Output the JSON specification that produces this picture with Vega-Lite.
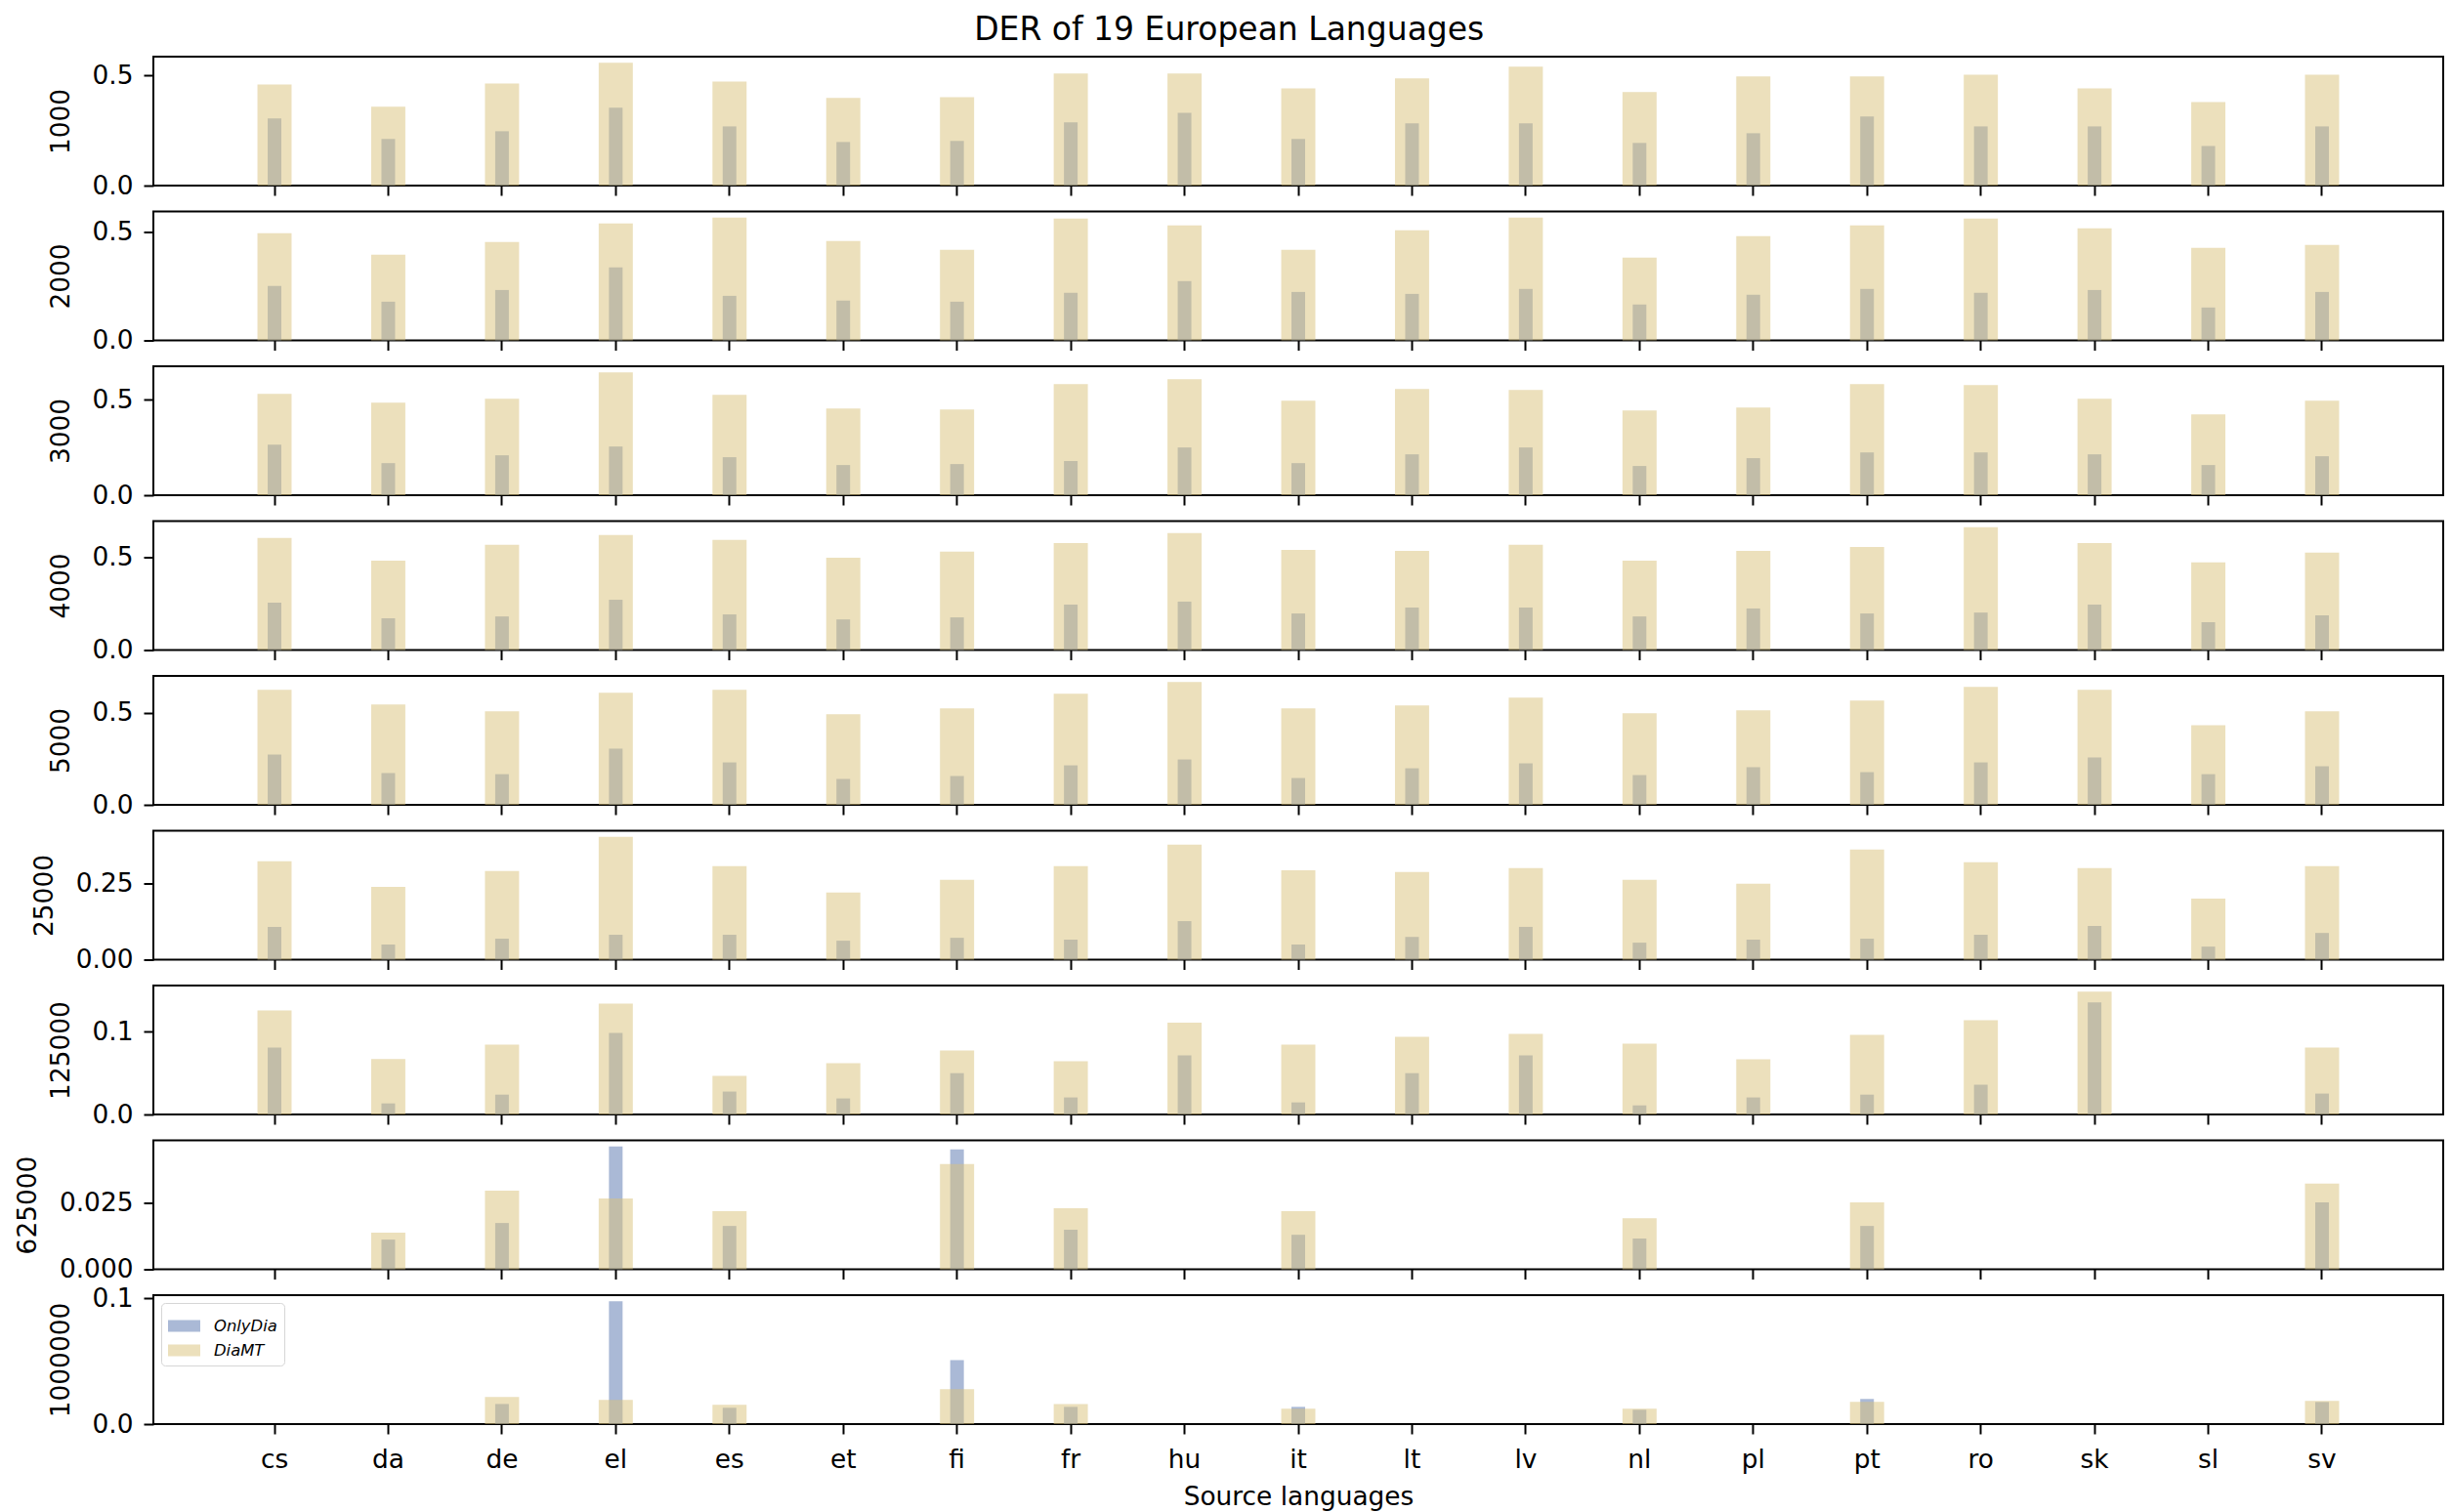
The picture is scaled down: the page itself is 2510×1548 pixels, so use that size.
{
  "$schema": "https://vega.github.io/schema/vega-lite/v6.json",
  "padding": {"left": 14, "right": 10, "top": 15, "bottom": 6},
  "background": "white",
  "title": {"text": "DER of 19 European Languages", "fontSize": 33, "font": "DejaVu Sans", "fontWeight": "normal", "anchor": "middle", "offset": 9, "color": "black"},
  "config": {
    "font": "DejaVu Sans",
    "view": {"stroke": "black", "strokeWidth": 2},
    "axis": {
      "labelFont": "DejaVu Sans", "labelFontSize": 26.4, "labelColor": "black",
      "titleFont": "DejaVu Sans", "titleFontSize": 26.4, "titleFontWeight": "normal", "titleColor": "black",
      "tickColor": "black", "tickWidth": 2, "tickSize": 10, "domain": false, "grid": false
    },
    "bar": {"opacity": 0.5}
  },
  "data": {
    "values": [
      {"n": 1000, "lang": "cs", "OnlyDia": 0.305, "DiaMT": 0.460},
      {"n": 1000, "lang": "da", "OnlyDia": 0.212, "DiaMT": 0.358},
      {"n": 1000, "lang": "de", "OnlyDia": 0.247, "DiaMT": 0.464},
      {"n": 1000, "lang": "el", "OnlyDia": 0.354, "DiaMT": 0.558},
      {"n": 1000, "lang": "es", "OnlyDia": 0.269, "DiaMT": 0.473},
      {"n": 1000, "lang": "et", "OnlyDia": 0.198, "DiaMT": 0.398},
      {"n": 1000, "lang": "fi", "OnlyDia": 0.203, "DiaMT": 0.402},
      {"n": 1000, "lang": "fr", "OnlyDia": 0.287, "DiaMT": 0.509},
      {"n": 1000, "lang": "hu", "OnlyDia": 0.331, "DiaMT": 0.509},
      {"n": 1000, "lang": "it", "OnlyDia": 0.212, "DiaMT": 0.442},
      {"n": 1000, "lang": "lt", "OnlyDia": 0.283, "DiaMT": 0.487},
      {"n": 1000, "lang": "lv", "OnlyDia": 0.283, "DiaMT": 0.540},
      {"n": 1000, "lang": "nl", "OnlyDia": 0.194, "DiaMT": 0.425},
      {"n": 1000, "lang": "pl", "OnlyDia": 0.238, "DiaMT": 0.496},
      {"n": 1000, "lang": "pt", "OnlyDia": 0.314, "DiaMT": 0.496},
      {"n": 1000, "lang": "ro", "OnlyDia": 0.269, "DiaMT": 0.504},
      {"n": 1000, "lang": "sk", "OnlyDia": 0.269, "DiaMT": 0.442},
      {"n": 1000, "lang": "sl", "OnlyDia": 0.180, "DiaMT": 0.380},
      {"n": 1000, "lang": "sv", "OnlyDia": 0.269, "DiaMT": 0.504},

      {"n": 2000, "lang": "cs", "OnlyDia": 0.252, "DiaMT": 0.495},
      {"n": 2000, "lang": "da", "OnlyDia": 0.179, "DiaMT": 0.396},
      {"n": 2000, "lang": "de", "OnlyDia": 0.233, "DiaMT": 0.455},
      {"n": 2000, "lang": "el", "OnlyDia": 0.337, "DiaMT": 0.541},
      {"n": 2000, "lang": "es", "OnlyDia": 0.206, "DiaMT": 0.568},
      {"n": 2000, "lang": "et", "OnlyDia": 0.184, "DiaMT": 0.459},
      {"n": 2000, "lang": "fi", "OnlyDia": 0.179, "DiaMT": 0.419},
      {"n": 2000, "lang": "fr", "OnlyDia": 0.220, "DiaMT": 0.563},
      {"n": 2000, "lang": "hu", "OnlyDia": 0.274, "DiaMT": 0.532},
      {"n": 2000, "lang": "it", "OnlyDia": 0.224, "DiaMT": 0.419},
      {"n": 2000, "lang": "lt", "OnlyDia": 0.215, "DiaMT": 0.509},
      {"n": 2000, "lang": "lv", "OnlyDia": 0.238, "DiaMT": 0.568},
      {"n": 2000, "lang": "nl", "OnlyDia": 0.166, "DiaMT": 0.383},
      {"n": 2000, "lang": "pl", "OnlyDia": 0.211, "DiaMT": 0.482},
      {"n": 2000, "lang": "pt", "OnlyDia": 0.238, "DiaMT": 0.532},
      {"n": 2000, "lang": "ro", "OnlyDia": 0.220, "DiaMT": 0.563},
      {"n": 2000, "lang": "sk", "OnlyDia": 0.233, "DiaMT": 0.518},
      {"n": 2000, "lang": "sl", "OnlyDia": 0.152, "DiaMT": 0.428},
      {"n": 2000, "lang": "sv", "OnlyDia": 0.224, "DiaMT": 0.441},

      {"n": 3000, "lang": "cs", "OnlyDia": 0.265, "DiaMT": 0.531},
      {"n": 3000, "lang": "da", "OnlyDia": 0.168, "DiaMT": 0.485},
      {"n": 3000, "lang": "de", "OnlyDia": 0.209, "DiaMT": 0.505},
      {"n": 3000, "lang": "el", "OnlyDia": 0.255, "DiaMT": 0.643},
      {"n": 3000, "lang": "es", "OnlyDia": 0.199, "DiaMT": 0.526},
      {"n": 3000, "lang": "et", "OnlyDia": 0.158, "DiaMT": 0.454},
      {"n": 3000, "lang": "fi", "OnlyDia": 0.163, "DiaMT": 0.449},
      {"n": 3000, "lang": "fr", "OnlyDia": 0.179, "DiaMT": 0.582},
      {"n": 3000, "lang": "hu", "OnlyDia": 0.250, "DiaMT": 0.607},
      {"n": 3000, "lang": "it", "OnlyDia": 0.168, "DiaMT": 0.495},
      {"n": 3000, "lang": "lt", "OnlyDia": 0.214, "DiaMT": 0.556},
      {"n": 3000, "lang": "lv", "OnlyDia": 0.250, "DiaMT": 0.551},
      {"n": 3000, "lang": "nl", "OnlyDia": 0.153, "DiaMT": 0.444},
      {"n": 3000, "lang": "pl", "OnlyDia": 0.194, "DiaMT": 0.459},
      {"n": 3000, "lang": "pt", "OnlyDia": 0.224, "DiaMT": 0.582},
      {"n": 3000, "lang": "ro", "OnlyDia": 0.224, "DiaMT": 0.577},
      {"n": 3000, "lang": "sk", "OnlyDia": 0.214, "DiaMT": 0.505},
      {"n": 3000, "lang": "sl", "OnlyDia": 0.158, "DiaMT": 0.423},
      {"n": 3000, "lang": "sv", "OnlyDia": 0.204, "DiaMT": 0.495},

      {"n": 4000, "lang": "cs", "OnlyDia": 0.255, "DiaMT": 0.604},
      {"n": 4000, "lang": "da", "OnlyDia": 0.171, "DiaMT": 0.482},
      {"n": 4000, "lang": "de", "OnlyDia": 0.181, "DiaMT": 0.567},
      {"n": 4000, "lang": "el", "OnlyDia": 0.271, "DiaMT": 0.620},
      {"n": 4000, "lang": "es", "OnlyDia": 0.192, "DiaMT": 0.593},
      {"n": 4000, "lang": "et", "OnlyDia": 0.165, "DiaMT": 0.498},
      {"n": 4000, "lang": "fi", "OnlyDia": 0.176, "DiaMT": 0.530},
      {"n": 4000, "lang": "fr", "OnlyDia": 0.245, "DiaMT": 0.577},
      {"n": 4000, "lang": "hu", "OnlyDia": 0.261, "DiaMT": 0.630},
      {"n": 4000, "lang": "it", "OnlyDia": 0.197, "DiaMT": 0.540},
      {"n": 4000, "lang": "lt", "OnlyDia": 0.229, "DiaMT": 0.535},
      {"n": 4000, "lang": "lv", "OnlyDia": 0.229, "DiaMT": 0.567},
      {"n": 4000, "lang": "nl", "OnlyDia": 0.181, "DiaMT": 0.482},
      {"n": 4000, "lang": "pl", "OnlyDia": 0.224, "DiaMT": 0.535},
      {"n": 4000, "lang": "pt", "OnlyDia": 0.197, "DiaMT": 0.556},
      {"n": 4000, "lang": "ro", "OnlyDia": 0.202, "DiaMT": 0.662},
      {"n": 4000, "lang": "sk", "OnlyDia": 0.245, "DiaMT": 0.577},
      {"n": 4000, "lang": "sl", "OnlyDia": 0.150, "DiaMT": 0.472},
      {"n": 4000, "lang": "sv", "OnlyDia": 0.187, "DiaMT": 0.525},

      {"n": 5000, "lang": "cs", "OnlyDia": 0.274, "DiaMT": 0.626},
      {"n": 5000, "lang": "da", "OnlyDia": 0.173, "DiaMT": 0.546},
      {"n": 5000, "lang": "de", "OnlyDia": 0.167, "DiaMT": 0.509},
      {"n": 5000, "lang": "el", "OnlyDia": 0.306, "DiaMT": 0.610},
      {"n": 5000, "lang": "es", "OnlyDia": 0.231, "DiaMT": 0.626},
      {"n": 5000, "lang": "et", "OnlyDia": 0.141, "DiaMT": 0.493},
      {"n": 5000, "lang": "fi", "OnlyDia": 0.157, "DiaMT": 0.525},
      {"n": 5000, "lang": "fr", "OnlyDia": 0.215, "DiaMT": 0.605},
      {"n": 5000, "lang": "hu", "OnlyDia": 0.247, "DiaMT": 0.669},
      {"n": 5000, "lang": "it", "OnlyDia": 0.146, "DiaMT": 0.525},
      {"n": 5000, "lang": "lt", "OnlyDia": 0.199, "DiaMT": 0.541},
      {"n": 5000, "lang": "lv", "OnlyDia": 0.226, "DiaMT": 0.584},
      {"n": 5000, "lang": "nl", "OnlyDia": 0.162, "DiaMT": 0.498},
      {"n": 5000, "lang": "pl", "OnlyDia": 0.205, "DiaMT": 0.514},
      {"n": 5000, "lang": "pt", "OnlyDia": 0.178, "DiaMT": 0.568},
      {"n": 5000, "lang": "ro", "OnlyDia": 0.231, "DiaMT": 0.642},
      {"n": 5000, "lang": "sk", "OnlyDia": 0.258, "DiaMT": 0.626},
      {"n": 5000, "lang": "sl", "OnlyDia": 0.167, "DiaMT": 0.434},
      {"n": 5000, "lang": "sv", "OnlyDia": 0.210, "DiaMT": 0.509},

      {"n": 25000, "lang": "cs", "OnlyDia": 0.108, "DiaMT": 0.324},
      {"n": 25000, "lang": "da", "OnlyDia": 0.050, "DiaMT": 0.240},
      {"n": 25000, "lang": "de", "OnlyDia": 0.069, "DiaMT": 0.292},
      {"n": 25000, "lang": "el", "OnlyDia": 0.082, "DiaMT": 0.405},
      {"n": 25000, "lang": "es", "OnlyDia": 0.082, "DiaMT": 0.308},
      {"n": 25000, "lang": "et", "OnlyDia": 0.0625, "DiaMT": 0.221},
      {"n": 25000, "lang": "fi", "OnlyDia": 0.072, "DiaMT": 0.263},
      {"n": 25000, "lang": "fr", "OnlyDia": 0.066, "DiaMT": 0.308},
      {"n": 25000, "lang": "hu", "OnlyDia": 0.127, "DiaMT": 0.379},
      {"n": 25000, "lang": "it", "OnlyDia": 0.050, "DiaMT": 0.295},
      {"n": 25000, "lang": "lt", "OnlyDia": 0.075, "DiaMT": 0.289},
      {"n": 25000, "lang": "lv", "OnlyDia": 0.108, "DiaMT": 0.302},
      {"n": 25000, "lang": "nl", "OnlyDia": 0.056, "DiaMT": 0.263},
      {"n": 25000, "lang": "pl", "OnlyDia": 0.066, "DiaMT": 0.250},
      {"n": 25000, "lang": "pt", "OnlyDia": 0.069, "DiaMT": 0.363},
      {"n": 25000, "lang": "ro", "OnlyDia": 0.082, "DiaMT": 0.321},
      {"n": 25000, "lang": "sk", "OnlyDia": 0.111, "DiaMT": 0.302},
      {"n": 25000, "lang": "sl", "OnlyDia": 0.043, "DiaMT": 0.2015},
      {"n": 25000, "lang": "sv", "OnlyDia": 0.088, "DiaMT": 0.308},

      {"n": 125000, "lang": "cs", "OnlyDia": 0.081, "DiaMT": 0.126},
      {"n": 125000, "lang": "da", "OnlyDia": 0.0134, "DiaMT": 0.067},
      {"n": 125000, "lang": "de", "OnlyDia": 0.024, "DiaMT": 0.0846},
      {"n": 125000, "lang": "el", "OnlyDia": 0.0988, "DiaMT": 0.134},
      {"n": 125000, "lang": "es", "OnlyDia": 0.0277, "DiaMT": 0.0466},
      {"n": 125000, "lang": "et", "OnlyDia": 0.0194, "DiaMT": 0.062},
      {"n": 125000, "lang": "fi", "OnlyDia": 0.050, "DiaMT": 0.0775},
      {"n": 125000, "lang": "fr", "OnlyDia": 0.0206, "DiaMT": 0.0644},
      {"n": 125000, "lang": "hu", "OnlyDia": 0.0715, "DiaMT": 0.111},
      {"n": 125000, "lang": "it", "OnlyDia": 0.0146, "DiaMT": 0.0846},
      {"n": 125000, "lang": "lt", "OnlyDia": 0.050, "DiaMT": 0.094},
      {"n": 125000, "lang": "lv", "OnlyDia": 0.0715, "DiaMT": 0.0976},
      {"n": 125000, "lang": "nl", "OnlyDia": 0.011, "DiaMT": 0.0858},
      {"n": 125000, "lang": "pl", "OnlyDia": 0.0206, "DiaMT": 0.0668},
      {"n": 125000, "lang": "pt", "OnlyDia": 0.024, "DiaMT": 0.0964},
      {"n": 125000, "lang": "ro", "OnlyDia": 0.036, "DiaMT": 0.114},
      {"n": 125000, "lang": "sk", "OnlyDia": 0.1356, "DiaMT": 0.1486},
      {"n": 125000, "lang": "sv", "OnlyDia": 0.0253, "DiaMT": 0.081},

      {"n": 625000, "lang": "da", "OnlyDia": 0.0111, "DiaMT": 0.0137},
      {"n": 625000, "lang": "de", "OnlyDia": 0.0173, "DiaMT": 0.0294},
      {"n": 625000, "lang": "el", "OnlyDia": 0.0459, "DiaMT": 0.0265},
      {"n": 625000, "lang": "es", "OnlyDia": 0.0162, "DiaMT": 0.0217},
      {"n": 625000, "lang": "fi", "OnlyDia": 0.0448, "DiaMT": 0.0393},
      {"n": 625000, "lang": "fr", "OnlyDia": 0.0148, "DiaMT": 0.0228},
      {"n": 625000, "lang": "it", "OnlyDia": 0.0129, "DiaMT": 0.0217},
      {"n": 625000, "lang": "nl", "OnlyDia": 0.0115, "DiaMT": 0.0191},
      {"n": 625000, "lang": "pt", "OnlyDia": 0.0162, "DiaMT": 0.025},
      {"n": 625000, "lang": "sv", "OnlyDia": 0.025, "DiaMT": 0.032},

      {"n": 1000000, "lang": "de", "OnlyDia": 0.016, "DiaMT": 0.0215},
      {"n": 1000000, "lang": "el", "OnlyDia": 0.0977, "DiaMT": 0.0192},
      {"n": 1000000, "lang": "es", "OnlyDia": 0.013, "DiaMT": 0.0153},
      {"n": 1000000, "lang": "fi", "OnlyDia": 0.051, "DiaMT": 0.0277},
      {"n": 1000000, "lang": "fr", "OnlyDia": 0.0137, "DiaMT": 0.016},
      {"n": 1000000, "lang": "it", "OnlyDia": 0.0137, "DiaMT": 0.0122},
      {"n": 1000000, "lang": "nl", "OnlyDia": 0.0114, "DiaMT": 0.0122},
      {"n": 1000000, "lang": "pt", "OnlyDia": 0.020, "DiaMT": 0.0176},
      {"n": 1000000, "lang": "sv", "OnlyDia": 0.0176, "DiaMT": 0.0184}
    ]
  },
  "bounds": "flush",
  "spacing": 26.5,
  "resolve": {"scale": {"color": "independent", "y": "independent"}, "legend": {"color": "independent"}},
  "vconcat": [
    {
      "width": 2344, "height": 132,
      "transform": [{"filter": "datum.n === 1000"}],
      "encoding": {"x": {"field": "lang", "type": "nominal", "sort": null, "scale": {"domain": ["cs","da","de","el","es","et","fi","fr","hu","it","lt","lv","nl","pl","pt","ro","sk","sl","sv"], "paddingInner": 0.7, "paddingOuter": 0.915}, "axis": {"labels": false, "title": null}}},
      "layer": [
        {"mark": {"type": "bar", "width": {"band": 0.4}}, "encoding": {"y": {"field": "OnlyDia", "type": "quantitative", "scale": {"domain": [0, 0.586], "nice": false}, "axis": {"values": [0, 0.5], "format": ".1f", "title": "1000", "labelPadding": 11, "titlePadding": 18}}, "color": {"datum": "OnlyDia", "scale": {"domain": ["OnlyDia", "DiaMT"], "range": ["#5573ad", "#d9c179"]}, "legend": null}}},
        {"mark": {"type": "bar"}, "encoding": {"y": {"field": "DiaMT", "type": "quantitative"}, "color": {"datum": "DiaMT", "legend": null}}}
      ]
    },
    {
      "width": 2344, "height": 132,
      "transform": [{"filter": "datum.n === 2000"}],
      "encoding": {"x": {"field": "lang", "type": "nominal", "sort": null, "scale": {"domain": ["cs","da","de","el","es","et","fi","fr","hu","it","lt","lv","nl","pl","pt","ro","sk","sl","sv"], "paddingInner": 0.7, "paddingOuter": 0.915}, "axis": {"labels": false, "title": null}}},
      "layer": [
        {"mark": {"type": "bar", "width": {"band": 0.4}}, "encoding": {"y": {"field": "OnlyDia", "type": "quantitative", "scale": {"domain": [0, 0.596], "nice": false}, "axis": {"values": [0, 0.5], "format": ".1f", "title": "2000", "labelPadding": 11, "titlePadding": 18}}, "color": {"datum": "OnlyDia", "scale": {"domain": ["OnlyDia", "DiaMT"], "range": ["#5573ad", "#d9c179"]}, "legend": null}}},
        {"mark": {"type": "bar"}, "encoding": {"y": {"field": "DiaMT", "type": "quantitative"}, "color": {"datum": "DiaMT", "legend": null}}}
      ]
    },
    {
      "width": 2344, "height": 132,
      "transform": [{"filter": "datum.n === 3000"}],
      "encoding": {"x": {"field": "lang", "type": "nominal", "sort": null, "scale": {"domain": ["cs","da","de","el","es","et","fi","fr","hu","it","lt","lv","nl","pl","pt","ro","sk","sl","sv"], "paddingInner": 0.7, "paddingOuter": 0.915}, "axis": {"labels": false, "title": null}}},
      "layer": [
        {"mark": {"type": "bar", "width": {"band": 0.4}}, "encoding": {"y": {"field": "OnlyDia", "type": "quantitative", "scale": {"domain": [0, 0.675], "nice": false}, "axis": {"values": [0, 0.5], "format": ".1f", "title": "3000", "labelPadding": 11, "titlePadding": 18}}, "color": {"datum": "OnlyDia", "scale": {"domain": ["OnlyDia", "DiaMT"], "range": ["#5573ad", "#d9c179"]}, "legend": null}}},
        {"mark": {"type": "bar"}, "encoding": {"y": {"field": "DiaMT", "type": "quantitative"}, "color": {"datum": "DiaMT", "legend": null}}}
      ]
    },
    {
      "width": 2344, "height": 132,
      "transform": [{"filter": "datum.n === 4000"}],
      "encoding": {"x": {"field": "lang", "type": "nominal", "sort": null, "scale": {"domain": ["cs","da","de","el","es","et","fi","fr","hu","it","lt","lv","nl","pl","pt","ro","sk","sl","sv"], "paddingInner": 0.7, "paddingOuter": 0.915}, "axis": {"labels": false, "title": null}}},
      "layer": [
        {"mark": {"type": "bar", "width": {"band": 0.4}}, "encoding": {"y": {"field": "OnlyDia", "type": "quantitative", "scale": {"domain": [0, 0.695], "nice": false}, "axis": {"values": [0, 0.5], "format": ".1f", "title": "4000", "labelPadding": 11, "titlePadding": 18}}, "color": {"datum": "OnlyDia", "scale": {"domain": ["OnlyDia", "DiaMT"], "range": ["#5573ad", "#d9c179"]}, "legend": null}}},
        {"mark": {"type": "bar"}, "encoding": {"y": {"field": "DiaMT", "type": "quantitative"}, "color": {"datum": "DiaMT", "legend": null}}}
      ]
    },
    {
      "width": 2344, "height": 132,
      "transform": [{"filter": "datum.n === 5000"}],
      "encoding": {"x": {"field": "lang", "type": "nominal", "sort": null, "scale": {"domain": ["cs","da","de","el","es","et","fi","fr","hu","it","lt","lv","nl","pl","pt","ro","sk","sl","sv"], "paddingInner": 0.7, "paddingOuter": 0.915}, "axis": {"labels": false, "title": null}}},
      "layer": [
        {"mark": {"type": "bar", "width": {"band": 0.4}}, "encoding": {"y": {"field": "OnlyDia", "type": "quantitative", "scale": {"domain": [0, 0.702], "nice": false}, "axis": {"values": [0, 0.5], "format": ".1f", "title": "5000", "labelPadding": 11, "titlePadding": 18}}, "color": {"datum": "OnlyDia", "scale": {"domain": ["OnlyDia", "DiaMT"], "range": ["#5573ad", "#d9c179"]}, "legend": null}}},
        {"mark": {"type": "bar"}, "encoding": {"y": {"field": "DiaMT", "type": "quantitative"}, "color": {"datum": "DiaMT", "legend": null}}}
      ]
    },
    {
      "width": 2344, "height": 132,
      "transform": [{"filter": "datum.n === 25000"}],
      "encoding": {"x": {"field": "lang", "type": "nominal", "sort": null, "scale": {"domain": ["cs","da","de","el","es","et","fi","fr","hu","it","lt","lv","nl","pl","pt","ro","sk","sl","sv"], "paddingInner": 0.7, "paddingOuter": 0.915}, "axis": {"labels": false, "title": null}}},
      "layer": [
        {"mark": {"type": "bar", "width": {"band": 0.4}}, "encoding": {"y": {"field": "OnlyDia", "type": "quantitative", "scale": {"domain": [0, 0.425], "nice": false}, "axis": {"values": [0, 0.25], "format": ".2f", "title": "25000", "labelPadding": 11, "titlePadding": 18}}, "color": {"datum": "OnlyDia", "scale": {"domain": ["OnlyDia", "DiaMT"], "range": ["#5573ad", "#d9c179"]}, "legend": null}}},
        {"mark": {"type": "bar"}, "encoding": {"y": {"field": "DiaMT", "type": "quantitative"}, "color": {"datum": "DiaMT", "legend": null}}}
      ]
    },
    {
      "width": 2344, "height": 132,
      "transform": [{"filter": "datum.n === 125000"}],
      "encoding": {"x": {"field": "lang", "type": "nominal", "sort": null, "scale": {"domain": ["cs","da","de","el","es","et","fi","fr","hu","it","lt","lv","nl","pl","pt","ro","sk","sl","sv"], "paddingInner": 0.7, "paddingOuter": 0.915}, "axis": {"labels": false, "title": null}}},
      "layer": [
        {"mark": {"type": "bar", "width": {"band": 0.4}}, "encoding": {"y": {"field": "OnlyDia", "type": "quantitative", "scale": {"domain": [0, 0.156], "nice": false}, "axis": {"values": [0, 0.1], "format": ".1f", "title": "125000", "labelPadding": 11, "titlePadding": 18}}, "color": {"datum": "OnlyDia", "scale": {"domain": ["OnlyDia", "DiaMT"], "range": ["#5573ad", "#d9c179"]}, "legend": null}}},
        {"mark": {"type": "bar"}, "encoding": {"y": {"field": "DiaMT", "type": "quantitative"}, "color": {"datum": "DiaMT", "legend": null}}}
      ]
    },
    {
      "width": 2344, "height": 132,
      "transform": [{"filter": "datum.n === 625000"}],
      "encoding": {"x": {"field": "lang", "type": "nominal", "sort": null, "scale": {"domain": ["cs","da","de","el","es","et","fi","fr","hu","it","lt","lv","nl","pl","pt","ro","sk","sl","sv"], "paddingInner": 0.7, "paddingOuter": 0.915}, "axis": {"labels": false, "title": null}}},
      "layer": [
        {"mark": {"type": "bar", "width": {"band": 0.4}}, "encoding": {"y": {"field": "OnlyDia", "type": "quantitative", "scale": {"domain": [0, 0.0482], "nice": false}, "axis": {"values": [0, 0.025], "format": ".3f", "title": "625000", "labelPadding": 11, "titlePadding": 18}}, "color": {"datum": "OnlyDia", "scale": {"domain": ["OnlyDia", "DiaMT"], "range": ["#5573ad", "#d9c179"]}, "legend": null}}},
        {"mark": {"type": "bar"}, "encoding": {"y": {"field": "DiaMT", "type": "quantitative"}, "color": {"datum": "DiaMT", "legend": null}}}
      ]
    },
    {
      "width": 2344, "height": 132,
      "transform": [{"filter": "datum.n === 1000000"}],
      "encoding": {"x": {"field": "lang", "type": "nominal", "sort": null, "scale": {"domain": ["cs","da","de","el","es","et","fi","fr","hu","it","lt","lv","nl","pl","pt","ro","sk","sl","sv"], "paddingInner": 0.7, "paddingOuter": 0.915}, "axis": {"labelAngle": 0, "labelPadding": 13, "title": "Source languages", "titlePadding": 12}}},
      "layer": [
        {"mark": {"type": "bar", "width": {"band": 0.4}}, "encoding": {"y": {"field": "OnlyDia", "type": "quantitative", "scale": {"domain": [0, 0.1026], "nice": false}, "axis": {"values": [0, 0.1], "format": ".1f", "title": "1000000", "labelPadding": 11, "titlePadding": 18}}, "color": {"datum": "OnlyDia", "scale": {"domain": ["OnlyDia", "DiaMT"], "range": ["#5573ad", "#d9c179"]}, "legend": {"orient": "top-left", "offset": 8, "title": null, "labelFont": "DejaVu Sans", "labelFontStyle": "italic", "labelFontSize": 16.4, "labelColor": "black", "labelOffset": 14, "symbolType": "M-1,-0.36H1V0.36H-1Z", "symbolSize": 1089, "symbolOpacity": 0.5, "symbolStrokeWidth": 0, "rowPadding": -7, "padding": 7, "strokeColor": "#d6d6d6", "fillColor": "rgba(255,255,255,0.8)", "cornerRadius": 4}}}},
        {"mark": {"type": "bar"}, "encoding": {"y": {"field": "DiaMT", "type": "quantitative"}, "color": {"datum": "DiaMT"}}}
      ]
    }
  ]
}
